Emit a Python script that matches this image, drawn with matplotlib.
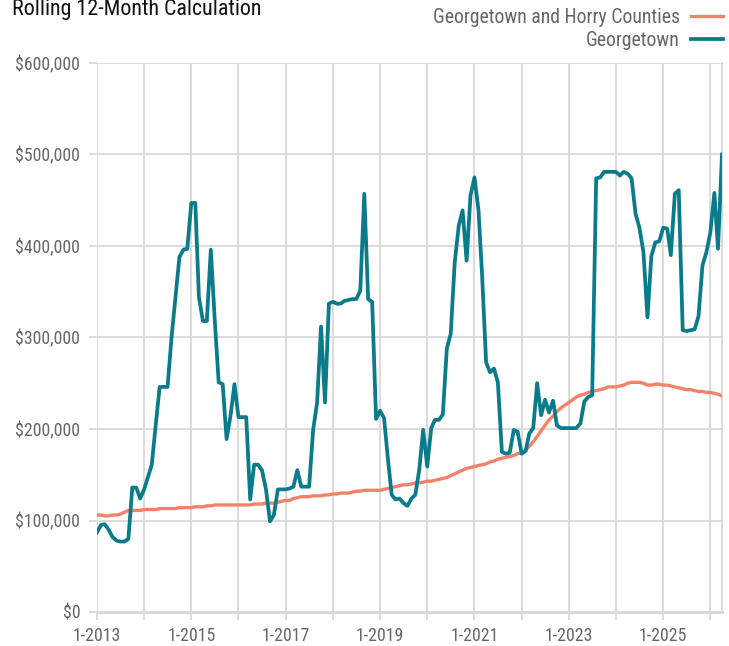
import numpy as np
import pandas as pd
import matplotlib
matplotlib.use("Agg")
import matplotlib.pyplot as plt
from matplotlib import font_manager
from matplotlib.ticker import FuncFormatter

# --- data (monthly, Jan 2013 - Apr 2026), values in $ thousands -------------
months = pd.date_range("2013-01-01", "2026-04-01", freq="MS")

horry_georgetown = [
    106, 106, 105, 105, 106, 106, 107, 109, 111, 111, 111, 111,   # 2013
    112, 112, 112, 112, 113, 113, 113, 113, 113, 114, 114, 114,   # 2014
    114, 115, 115, 115, 116, 116, 117, 117, 117, 117, 117, 117,   # 2015
    117, 117, 117, 117, 118, 118, 118, 119, 119, 119, 120, 121,   # 2016
    122, 122, 124, 125, 126, 126, 126, 127, 127, 127, 128, 128,   # 2017
    129, 129, 130, 130, 130, 131, 132, 132, 133, 133, 133, 133,   # 2018
    133, 134, 135, 136, 137, 138, 139, 139, 140, 141, 141, 142,   # 2019
    143, 143, 144, 145, 146, 147, 149, 151, 153, 155, 157, 158,   # 2020
    159, 160, 161, 162, 164, 165, 167, 168, 169, 170, 171, 173,   # 2021
    174, 177, 181, 186, 192, 198, 204, 210, 214, 219, 223, 226,   # 2022
    229, 232, 235, 237, 238, 240, 241, 242, 243, 244, 246, 246,   # 2023
    246, 247, 248, 250, 251, 251, 251, 250, 248, 248, 249, 249,   # 2024
    248, 248, 247, 246, 245, 244, 243, 243, 242, 241, 241, 240,   # 2025
    240, 239, 238, 236,                                           # 2026
]

georgetown = [
    87, 95, 96, 90, 82, 78, 77, 77, 80, 136, 136, 124,            # 2013
    134, 148, 161, 205, 246, 246, 246, 300, 345, 388, 396, 397,   # 2014
    447, 447, 344, 318, 318, 396, 320, 251, 249, 189, 215, 249,   # 2015
    213, 213, 213, 123, 161, 161, 155, 134, 99, 106, 134, 134,    # 2016
    134, 135, 137, 155, 137, 137, 137, 199, 229, 312, 229, 337,   # 2017
    339, 337, 337, 340, 341, 342, 342, 351, 457, 342, 339, 211,   # 2018
    220, 212, 170, 128, 123, 124, 119, 116, 124, 128, 156, 199,   # 2019
    159, 201, 210, 210, 216, 288, 304, 382, 422, 439, 384, 455,   # 2020
    475, 439, 368, 273, 262, 266, 251, 175, 173, 174, 199, 197,   # 2021
    173, 176, 195, 201, 250, 215, 232, 218, 231, 204, 201, 201,   # 2022
    201, 201, 201, 206, 230, 235, 237, 474, 475, 481, 481, 481,   # 2023
    481, 477, 481, 479, 474, 435, 420, 393, 322, 389, 404, 405,   # 2024
    420, 419, 390, 457, 461, 308, 307, 308, 309, 323, 379, 393,   # 2025
    415, 458, 397, 500,                                           # 2026
]

series_names = ["Georgetown and Horry Counties", "Georgetown"]
y_ticks = [0, 100000, 200000, 300000, 400000, 500000, 600000]

ORANGE = "#F4826A"
TEAL = "#0A7B8A"
GRID = "#D9D9D9"
LABEL = "#666666"


def pick_font(candidates):
    names = {f.name for f in font_manager.fontManager.ttflist}
    for c in candidates:
        if c in names:
            return c
    return "DejaVu Sans"


FONT = pick_font(["Roboto Condensed", "Liberation Sans Narrow", "Arial Narrow",
                  "Open Sans Condensed", "Roboto"])
plt.rcParams["font.family"] = [FONT, "DejaVu Sans"]

fig = plt.figure(figsize=(7.29, 6.46), dpi=100)
ax = fig.add_axes([97 / 729, 1 - 612 / 646, (722 - 97) / 729, (612 - 63) / 646])

hg = np.array(horry_georgetown) * 1000
gt = np.array(georgetown) * 1000
ax.plot(months, hg, color=ORANGE, lw=2.4, label=series_names[0], zorder=3,
        solid_joinstyle="round")
ax.plot(months, gt, color=TEAL, lw=2.7, label=series_names[1], zorder=4,
        solid_joinstyle="round")

# axes ----------------------------------------------------------------------
ax.set_xlim(months[0], months[-1])
ax.set_ylim(0, 600000)
ax.set_yticks(y_ticks)
ax.yaxis.set_major_formatter(FuncFormatter(lambda v, _: f"${v:,.0f}"))

year_starts = pd.date_range("2013-01-01", "2026-01-01", freq="YS")
ax.set_xticks(year_starts)
ax.set_xticklabels([f"1-{d.year}" if d.year % 2 == 1 else "" for d in year_starts])

ax.grid(True, color=GRID, lw=1.3)
ax.set_axisbelow(True)
for side in ["top", "left"]:
    ax.spines[side].set_visible(False)
ax.spines["right"].set_color(GRID)
ax.spines["right"].set_linewidth(1.3)
ax.spines["bottom"].set_color(GRID)
ax.spines["bottom"].set_linewidth(2.2)
ax.tick_params(axis="both", colors=GRID, labelcolor=LABEL, labelsize=12.8,
               length=6, width=1.3)
ax.tick_params(axis="y", pad=6)
ax.tick_params(axis="x", pad=5)

# title + legend --------------------------------------------------------------
fig.text(12 / 729, 1 - 15 / 646, "Rolling 12-Month Calculation", fontsize=15.8,
         color="#111111", va="baseline", ha="left")
leg = fig.legend(handles=ax.get_lines(), labels=series_names, loc="upper right",
                 bbox_to_anchor=(723 / 729, 1 - 8 / 646), frameon=False,
                 markerfirst=False, handlelength=1.6, handletextpad=0.6,
                 labelspacing=0.18, fontsize=14.2, labelcolor=LABEL,
                 borderaxespad=0, borderpad=0)

fig.savefig("out.png", dpi=100, facecolor="white")
